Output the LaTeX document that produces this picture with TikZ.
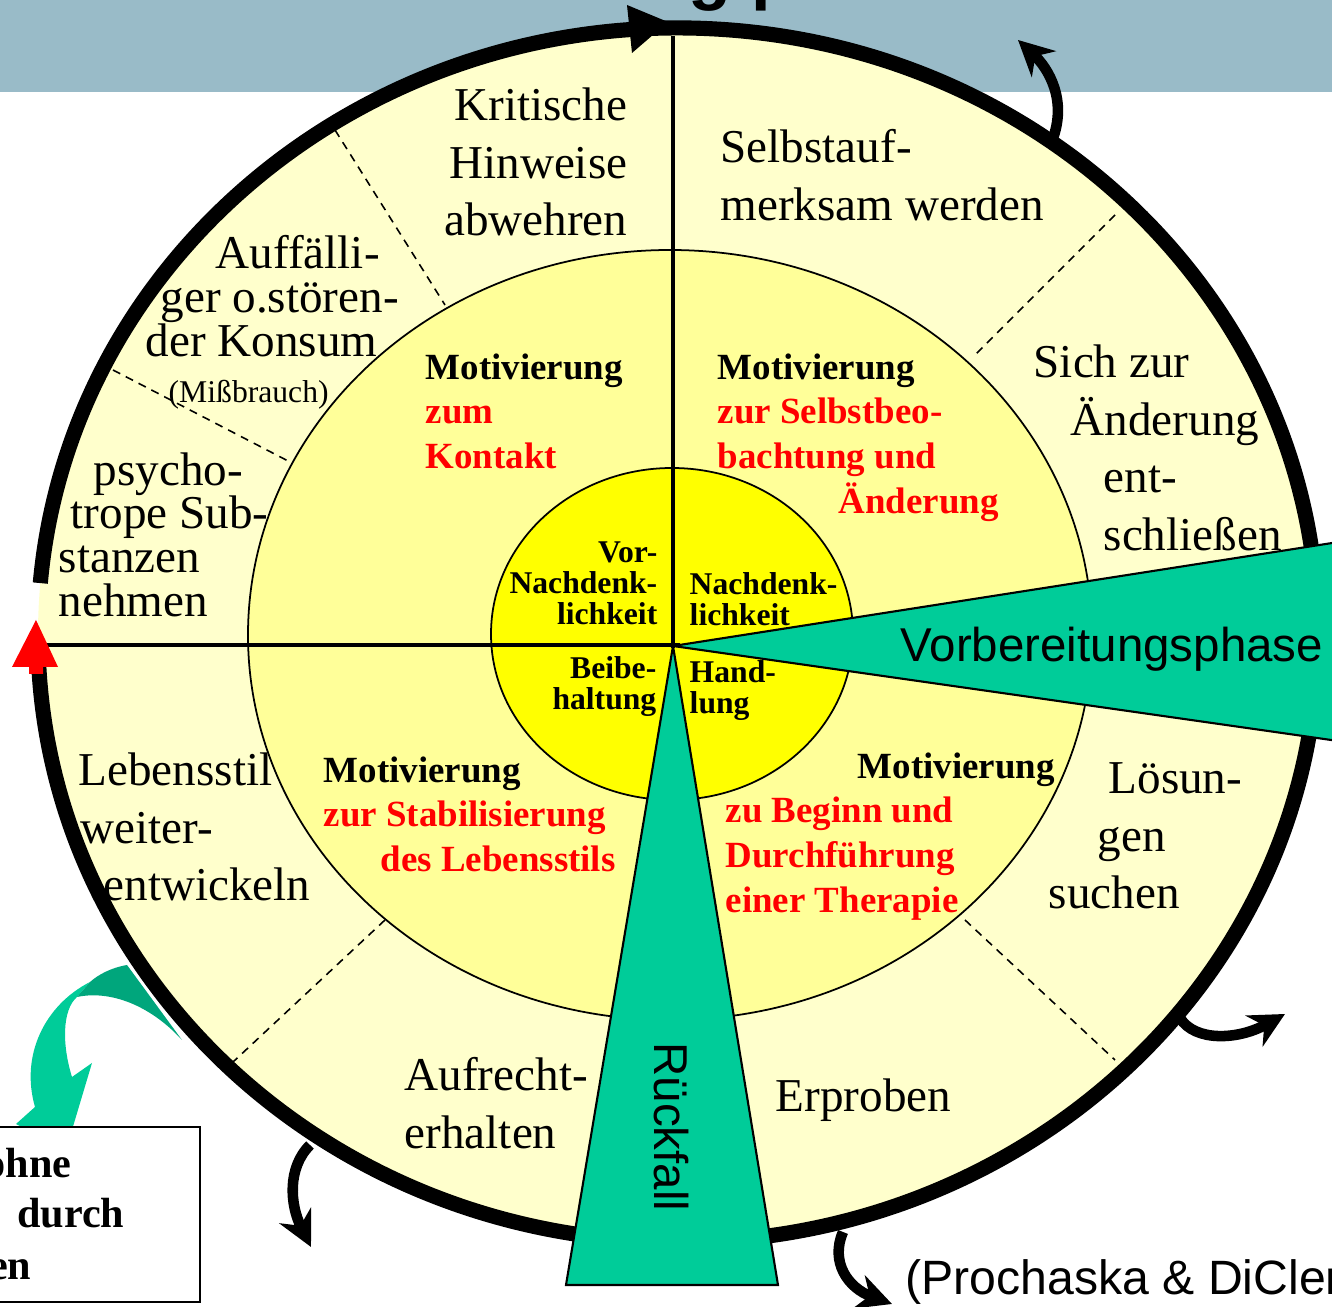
\documentclass[tikz,border=0pt]{standalone}
\usepackage{fontspec}
\setmainfont{Liberation Serif}
\newfontfamily\arialfont{Liberation Sans}
\usetikzlibrary{arrows.meta}

\definecolor{bannerblue}{HTML}{99BBC8}
\definecolor{paleyellow}{HTML}{FFFFCC}
\definecolor{midyellow}{HTML}{FFFF99}
\definecolor{coreyellow}{HTML}{FFFF00}
\definecolor{phasegreen}{HTML}{00CC99}
\definecolor{darkgreen}{HTML}{00A67C}

\newcommand{\redtext}[1]{\textcolor{red}{#1}}

\tikzset{
	outertxt/.style={font=\fontsize{13.4}{16.4}\selectfont, inner sep=0pt, align=left},
	outertight/.style={font=\fontsize{13.4}{12.4}\selectfont, inner sep=0pt, align=left},
	midtxt/.style={font=\bfseries\fontsize{10.5}{12.7}\selectfont, inner sep=0pt, align=left},
	coretxt/.style={font=\bfseries\fontsize{9}{8.8}\selectfont, inner sep=0pt},
	phasetxt/.style={font=\arialfont\fontsize{13.5}{16}\selectfont, inner sep=0pt},
	boxtxt/.style={font=\bfseries\fontsize{12}{14.5}\selectfont, inner sep=0pt},
	sector/.style={line width=0.45pt, dash pattern=on 2.3pt off 1.8pt},
	exitarrow/.style={line width=3pt, -{Stealth[length=10pt, width=10pt]}},
	phase/.style={fill=phasegreen, draw=black, line width=0.6pt},
}

\begin{document}
\begin{tikzpicture}[x=0.01cm, y=-0.01cm]
		\useasboundingbox (0,0) rectangle (1332,1307);
		\clip (0,0) rectangle (1332,1307);

		% banner and cut title
		\fill[bannerblue] (0,0) rectangle (1332,92);
		\node[font=\arialfont\bfseries\fontsize{20}{24}\selectfont, inner sep=0pt, anchor=base west] (titlecut) at (688,-3) {g p};

		% rings
		\fill[paleyellow] (678,635) ellipse [x radius=640, y radius=607];
		\filldraw[fill=midyellow, line width=0.5pt] (670,635) ellipse [x radius=422, y radius=385];
		\filldraw[fill=coreyellow, line width=0.5pt] (672,634) ellipse [x radius=181, y radius=166];

		\draw[sector] (335,130) -- (445,305);
		\draw[sector] (113,370) -- (290,462);
		\draw[sector] (1115,215) -- (975,355);
		\draw[sector] (965,920) -- (1115,1060);
		\draw[sector] (385,920) -- (233,1062);

		\draw[line width=1.2pt] (673,36) -- (673,648);
		\draw[line width=1.2pt] (44,645) -- (680,645);

		% green exit arrow
		\fill[phasegreen] (90,982) .. controls (45,1005) and (20,1055) .. (35,1107) -- (16,1124) -- (66,1150) -- (92,1063) -- (72,1077) .. controls (62,1045) and (62,1010) .. (77,997) -- cycle;
		\fill[darkgreen] (127,965) .. controls (110,968) and (98,975) .. (90,982) -- (77,997) .. controls (110,990) and (150,1005) .. (182,1040) -- cycle;

		% black exit arrows
		\draw[exitarrow] (1052,141) .. controls (1068,100) and (1048,68) .. (1018,40);
		\draw[exitarrow] (1180,1018) .. controls (1195,1042) and (1238,1040) .. (1285,1014);
		\draw[exitarrow] (843,1232) .. controls (830,1262) and (848,1288) .. (892,1304);
		\draw[exitarrow] (310,1145) .. controls (287,1168) and (290,1205) .. (311,1247);

		% outer cycle
		\draw[line width=4.3pt] (40.3,583.1) arc [start angle=184.9, end angle=537, x radius=640, y radius=607];
		\fill (627,5) -- (668,22) -- (632,53) -- cycle;
		\fill[red] (36,620) -- (58,667) -- (43,667) -- (43,674) -- (29,674) -- (29,667) -- (12,667) -- cycle;

		% phases
		\draw[phase] (673,646) -- (1345,541) -- (1345,742) -- cycle;
		\draw[phase] (673,646) -- (778,1285) -- (566,1285) -- cycle;
		\node[phasetxt, anchor=base west] (vorbereitung) at (900,662) {Vorbereitungsphase};
		\node[phasetxt, rotate=-90] (rueckfall) at (671,1127) {Rückfall};

		% outer texts
		\node[outertxt, align=right, anchor=north east] (kritik) at (628,87) {Kritische\\Hinweise\\abwehren};
		\node[outertxt, anchor=north west] (selbst) at (720,129) {Selbstauf-\\merksam werden};
		\node[outertight, anchor=north west] (auffaellig) at (145,235) {\hspace*{0.70cm}Auffälli-\\\hspace*{0.15cm}ger o.stören-\\der Konsum};
		\node[font=\fontsize{9}{11}\selectfont, inner sep=0pt, anchor=base west] (missbrauch) at (168,403) {(Mißbrauch)};
		\node[outertight, anchor=north west] (psycho) at (58,452) {\hspace*{0.35cm}psycho-\\\hspace*{0.12cm}trope Sub-\\stanzen\\nehmen};
		\node[outertxt, anchor=north west] (aenderung) at (1033,344) {Sich zur\\\hspace*{0.37cm}Änderung\\\hspace*{0.70cm}ent-\\\hspace*{0.70cm}schließen};
		\node[outertxt, anchor=north west] (loesung) at (1048,762) {\hspace*{0.60cm}Lösun-\\\hspace*{0.49cm}gen\\suchen};
		\node[outertxt, anchor=north west] (lebensstil) at (78,752) {Lebensstil\\\hspace*{0.02cm}weiter-\\\hspace*{0.25cm}entwickeln};
		\node[outertxt, anchor=north west] (aufrecht) at (404,1057) {Aufrecht-\\erhalten};
		\node[outertxt, anchor=base west] (erproben) at (775,1112) {Erproben};

		% middle texts
		\node[midtxt, anchor=north west] (motkontakt) at (425,353) {Motivierung\\\redtext{zum}\\\redtext{Kontakt}};
		\node[midtxt, anchor=north west] (motselbst) at (717,353) {Motivierung\\\redtext{zur Selbstbeo-}\\\redtext{bachtung und}\\\hspace*{1.21cm}\redtext{Änderung}};
		\node[midtxt, anchor=north west] (motstabil) at (323,756) {Motivierung\\\redtext{zur Stabilisierung}\\\hspace*{0.57cm}\redtext{des Lebensstils}};
		\node[midtxt, anchor=north west] (mottherapie) at (725,752) {\hspace*{1.32cm}Motivierung\\\redtext{zu Beginn und}\\\redtext{Durchführung}\\\redtext{einer Therapie}};

		% core texts
		\node[coretxt, align=right, anchor=north east] (vornach) at (658,541) {Vor-\\Nachdenk-\\lichkeit};
		\node[coretxt, align=left, anchor=north west] (nachdenk) at (689,572) {Nachdenk-\\lichkeit};
		\node[coretxt, align=right, anchor=north east] (beibehalt) at (657,656) {Beibe-\\haltung};
		\node[coretxt, align=left, anchor=north west] (handlung) at (689,660) {Hand-\\lung};

		% box and source
		\draw[line width=0.7pt, fill=white] (-10,1127) rectangle (200,1302);
		\node[boxtxt, anchor=base east] (ohne) at (72,1178) {ohne};
		\node[boxtxt, anchor=base east] (durch) at (125,1228) {durch};
		\node[boxtxt, anchor=base east] (en) at (32,1280) {en};
		\node[phasetxt, font=\arialfont\fontsize{13.7}{16}\selectfont, anchor=base west] (quelle) at (905,1295) {(Prochaska \& DiClemente)};
	\end{tikzpicture}
\end{document}
